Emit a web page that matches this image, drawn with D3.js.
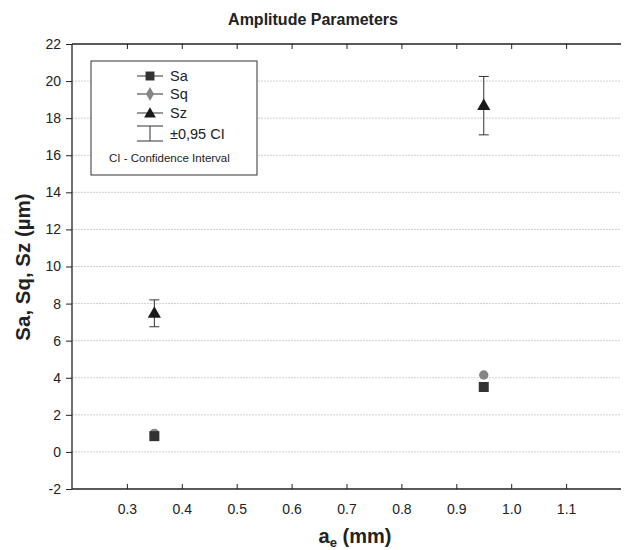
<!DOCTYPE html>
<html><head><meta charset="utf-8">
<script src="https://cdn.jsdelivr.net/npm/d3@7"></script>
<style>body{margin:0;background:#fff}svg{display:block}text{font-family:"Liberation Sans",Arial,sans-serif}</style>
</head><body><svg id="c" width="625" height="550"></svg>
<script>
const aeValues = [0.35, 0.95];
const saValues = [0.85, 3.5];
const sqValues = [1.0, 4.15];
const szValues = [7.5, 18.7];
const szLower = [6.75, 17.1];
const szUpper = [8.2, 20.25];
const xTicks = [0.3, 0.4, 0.5, 0.6, 0.7, 0.8, 0.9, 1.0, 1.1];
const yTicks = [-2, 0, 2, 4, 6, 8, 10, 12, 14, 16, 18, 20, 22];
const legendLabels = ["Sa", "Sq", "Sz", "±0,95 CI"];

const svg = d3.select("#c");
const L = 72, R = 621, T = 44, B = 489;
const x = d3.scaleLinear().domain([0.2, 1.2]).range([L, R]);
const y = d3.scaleLinear().domain([-2, 22]).range([B, T]);

// grid
svg.append("g").selectAll("line").data(yTicks.filter(v => v > -2 && v < 22)).join("line")
  .attr("x1", L).attr("x2", R).attr("y1", d => y(d)).attr("y2", d => y(d))
  .attr("stroke", "#d0d0d0").attr("stroke-width", 1).attr("stroke-dasharray", "2,1");

// axes
const yAxis = svg.append("g").attr("transform", `translate(${L},0)`)
  .call(d3.axisLeft(y).tickValues(yTicks).tickSize(6).tickPadding(5).tickFormat(d => String(d)));
const xAxis = svg.append("g").attr("transform", `translate(0,${B})`)
  .call(d3.axisBottom(x).tickValues(xTicks).tickSize(-5).tickPadding(15).tickFormat(d3.format(".1f")));
const xTop = svg.append("g").attr("transform", `translate(0,${T})`)
  .call(d3.axisTop(x).tickValues(xTicks).tickSize(-5).tickFormat(""));
[yAxis, xAxis, xTop].forEach(g => {
  g.select(".domain").remove();
  g.selectAll("line").attr("stroke", "#222");
  g.selectAll("text").attr("font-size", 14).attr("fill", "#222").attr("font-family", '"Liberation Sans",Arial,sans-serif');
});
svg.append("line").attr("x1", L).attr("x2", L).attr("y1", T).attr("y2", B).attr("stroke", "#222").attr("stroke-width", 1.3);
svg.append("line").attr("x1", L).attr("x2", R).attr("y1", B).attr("y2", B).attr("stroke", "#222").attr("stroke-width", 1.3);
svg.append("line").attr("x1", L).attr("x2", R).attr("y1", T).attr("y2", T).attr("stroke", "#222").attr("stroke-width", 1.3);

// error bars Sz
const eb = svg.append("g");
aeValues.forEach((a, i) => {
  eb.append("line").attr("x1", x(a)).attr("x2", x(a)).attr("y1", y(szLower[i])).attr("y2", y(szUpper[i])).attr("stroke", "#333");
  [szLower[i], szUpper[i]].forEach(v => eb.append("line").attr("x1", x(a) - 5).attr("x2", x(a) + 5).attr("y1", y(v)).attr("y2", y(v)).attr("stroke", "#333"));
});

// markers
const sym = (type, size) => d3.symbol().type(type).size(size)();
svg.append("g").selectAll("path").data(aeValues).join("path")
  .attr("transform", (d, i) => `translate(${x(d)},${y(sqValues[i])})`)
  .attr("d", sym(d3.symbolCircle, 70)).attr("fill", "#858585");
svg.append("g").selectAll("path").data(aeValues).join("path")
  .attr("transform", (d, i) => `translate(${x(d)},${y(saValues[i])})`)
  .attr("d", sym(d3.symbolSquare, 100)).attr("fill", "#333");
svg.append("g").selectAll("path").data(aeValues).join("path")
  .attr("transform", (d, i) => `translate(${x(d)},${y(szValues[i]) + 1})`)
  .attr("d", sym(d3.symbolTriangle, 75)).attr("fill", "#1a1a1a");

// legend
const lg = svg.append("g");
lg.append("rect").attr("x", 91).attr("y", 61).attr("width", 166).attr("height", 114)
  .attr("fill", "#fff").attr("stroke", "#333").attr("stroke-width", 1);
const ly = [76, 94, 113];
const lsym = [[d3.symbolSquare, 80, "#333"], [d3.symbolDiamond, 55, "#858585"], [d3.symbolTriangle, 60, "#1a1a1a"]];
ly.forEach((yy, i) => {
  lg.append("line").attr("x1", 137).attr("x2", 163).attr("y1", yy).attr("y2", yy).attr("stroke", "#333");
  lg.append("path").attr("transform", `translate(150,${yy + (i === 2 ? 1 : 0)})`).attr("d", sym(lsym[i][0], lsym[i][1])).attr("fill", lsym[i][2]);
  lg.append("text").attr("x", 170).attr("y", yy + 5).attr("font-size", 14.5).attr("fill", "#222").text(legendLabels[i]);
});
lg.append("line").attr("x1", 137).attr("x2", 163).attr("y1", 126).attr("y2", 126).attr("stroke", "#333");
lg.append("line").attr("x1", 137).attr("x2", 163).attr("y1", 141).attr("y2", 141).attr("stroke", "#333");
lg.append("line").attr("x1", 150).attr("x2", 150).attr("y1", 126).attr("y2", 141).attr("stroke", "#333");
lg.append("text").attr("x", 170).attr("y", 139).attr("font-size", 14.5).attr("fill", "#222").text(legendLabels[3]);
lg.append("text").attr("x", 109).attr("y", 162).attr("font-size", 11.5).attr("fill", "#222").text("CI - Confidence Interval");

// titles
svg.append("text").attr("x", 313).attr("y", 25).attr("text-anchor", "middle").attr("font-size", 16).attr("font-weight", "bold").attr("fill", "#222").text("Amplitude Parameters");
const xl = svg.append("text").attr("x", 355).attr("y", 543).attr("text-anchor", "middle").attr("font-size", 20).attr("font-weight", "bold").attr("fill", "#222");
xl.append("tspan").text("a");
xl.append("tspan").attr("font-size", 13).attr("dy", 4).text("e");
xl.append("tspan").attr("dy", -4).text(" (mm)");
svg.append("text").attr("transform", "translate(30,267) rotate(-90)").attr("text-anchor", "middle").attr("font-size", 20.5).attr("font-weight", "bold").attr("fill", "#222").text("Sa, Sq, Sz (µm)");
</script></body></html>
